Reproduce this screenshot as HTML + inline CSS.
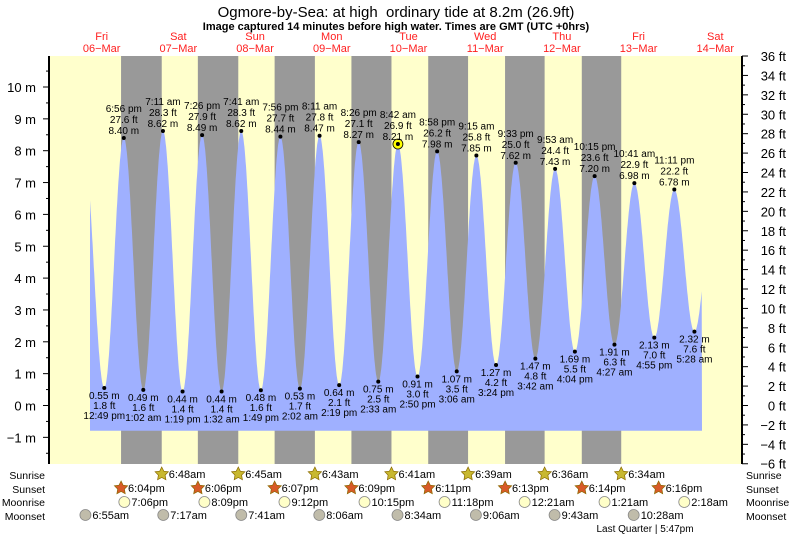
<!DOCTYPE html>
<html><head><meta charset="utf-8"><style>
body{margin:0;background:#fff;}
svg{display:block;font-family:"Liberation Sans",sans-serif;}
</style></head><body>
<svg id="s" width="793" height="538" xmlns="http://www.w3.org/2000/svg"></svg>
<script>
var S=document.getElementById('s'),h='';
var X0=63.3,PX=3.196,Y0=405.5,PM=31.85,PL=49,PR=742,PT=56,PB=464;
function X(t){return X0+t*PX;}function Y(m){return Y0-m*PM;}
h+='<rect x="'+PL+'" y="'+PT+'" width="'+(PR-PL)+'" height="'+(PB-PT)+'" fill="#ffffcc"/>';
var ss=[18.07,42.1,66.12,90.15,114.18,138.22,162.23],sr=[30.8,54.75,78.72,102.68,126.65,150.6,174.57];
for(var i=0;i<7;i++)h+='<rect x="'+X(ss[i])+'" y="'+PT+'" width="'+(X(sr[i])-X(ss[i]))+'" height="'+(PB-PT)+'" fill="#999999"/>';
var ex=[[6.2,8.3],[12.82,0.55,'12:49 pm'],[18.93,8.40,'6:56 pm'],[25.03,0.49,'1:02 am'],[31.18,8.62,'7:11 am'],[37.32,0.44,'1:19 pm'],[43.43,8.49,'7:26 pm'],[49.53,0.44,'1:32 am'],[55.68,8.62,'7:41 am'],[61.82,0.48,'1:49 pm'],[67.93,8.44,'7:56 pm'],[74.03,0.53,'2:02 am'],[80.18,8.47,'8:11 am'],[86.32,0.64,'2:19 pm'],[92.43,8.27,'8:26 pm'],[98.55,0.75,'2:33 am'],[104.7,8.21,'8:42 am'],[110.83,0.91,'2:50 pm'],[116.97,7.98,'8:58 pm'],[123.1,1.07,'3:06 am'],[129.25,7.85,'9:15 am'],[135.4,1.27,'3:24 pm'],[141.55,7.62,'9:33 pm'],[147.7,1.47,'3:42 am'],[153.88,7.43,'9:53 am'],[160.07,1.69,'4:04 pm'],[166.25,7.20,'10:15 pm'],[172.45,1.91,'4:27 am'],[178.68,6.98,'10:41 am'],[184.92,2.13,'4:55 pm'],[191.18,6.78,'11:11 pm'],[197.47,2.32,'5:28 am'],[203.7,6.6]];
var t0=(90-X0)/PX,t1=(702-X0)/PX,bot=430.7,p='M90,'+bot;
for(var t=t0;t<=t1;t+=0.1){for(var k=0;k<ex.length-1;k++)if(t>=ex[k][0]&&t<=ex[k+1][0])break;
var a=ex[k],b=ex[k+1],f=(t-a[0])/(b[0]-a[0]),m=a[1]+(b[1]-a[1])*(1-Math.cos(Math.PI*f))/2;p+=' L'+X(t).toFixed(1)+','+Y(m).toFixed(1);}
p+=' L702,'+bot+' Z';h+='<path d="'+p+'" fill="#9fb0ff"/>';
var T='font-size="10" fill="#000" text-anchor="middle"';
for(var k=1;k<ex.length-1;k++){var e=ex[k],x=X(e[0]),y=Y(e[1]),ft=(e[1]*3.28084).toFixed(1);
if(e[1]>4){if(k==16)h+='<circle cx="'+x+'" cy="'+y+'" r="5" fill="#ffff00" stroke="#000" stroke-width="0.8"/>';
h+='<circle cx="'+x+'" cy="'+y+'" r="2" fill="#000"/><text x="'+x+'" y="'+(y-26)+'" '+T+'>'+e[2]+'</text><text x="'+x+'" y="'+(y-15)+'" '+T+'>'+ft+' ft</text><text x="'+x+'" y="'+(y-4)+'" '+T+'>'+e[1].toFixed(2)+' m</text>';}
else h+='<circle cx="'+x+'" cy="'+y+'" r="2" fill="#000"/><text x="'+x+'" y="'+(y+11)+'" '+T+'>'+e[1].toFixed(2)+' m</text><text x="'+x+'" y="'+(y+21)+'" '+T+'>'+ft+' ft</text><text x="'+x+'" y="'+(y+31)+'" '+T+'>'+e[2]+'</text>';}
h+='<line x1="'+PL+'" y1="'+PT+'" x2="'+PL+'" y2="'+PB+'" stroke="#000" stroke-width="2"/><line x1="'+PR+'" y1="'+PT+'" x2="'+PR+'" y2="'+PB+'" stroke="#000" stroke-width="2"/>';
for(var m=-1.5;m<=11;m+=0.5){var y=Y(m);if(y<PT||y>PB)continue;var maj=(m%1==0);h+='<line x1="'+(PL-(maj?6:3))+'" y1="'+y+'" x2="'+PL+'" y2="'+y+'" stroke="#000"/>';
if(maj&&m<=10)h+='<text x="36" y="'+(y+5)+'" font-size="13" text-anchor="end">'+(m<0?'\u2212'+(-m):m)+' m</text>';}
for(var f=-6;f<=36;f++){var y=Y(f/3.28084);var maj=(f%2==0);h+='<line x1="'+PR+'" y1="'+y+'" x2="'+(PR+(maj?6:3))+'" y2="'+y+'" stroke="#000"/>';
if(maj)h+='<text x="786" y="'+(y+5)+'" font-size="13" text-anchor="end">'+(f<0?'\u2212'+(-f):f)+' ft</text>';}
var dn=['Fri','Sat','Sun','Mon','Tue','Wed','Thu','Fri','Sat'];
for(var d=0;d<9;d++){var x=X(12+24*d);h+='<text x="'+x+'" y="40" font-size="11" fill="#ff2020" text-anchor="middle">'+dn[d]+'</text><text x="'+x+'" y="52" font-size="11" fill="#ff2020" text-anchor="middle">'+('0'+(6+d)).slice(-2)+'\u2212Mar</text>';}
h+='<text x="396" y="17" font-size="15" text-anchor="middle">Ogmore-by-Sea: at high \u00a0ordinary tide at 8.2m (26.9ft)</text>';
h+='<text x="396" y="30" font-size="11" font-weight="bold" text-anchor="middle">Image captured 14 minutes before high water. Times are GMT (UTC +0hrs)</text>';
var rows=[['Sunrise',479],['Sunset',493],['Moonrise',506],['Moonset',520]];
rows.forEach(function(r){h+='<text x="45" y="'+r[1]+'" font-size="10.5" text-anchor="end">'+r[0]+'</text><text x="746" y="'+r[1]+'" font-size="10.5">'+r[0]+'</text>';});
function star(x,y,c){var s='';for(var i=0;i<10;i++){var a=-Math.PI/2+i*Math.PI/5,r=i%2?3.5:7;s+=(x+r*Math.cos(a)).toFixed(1)+','+(y+r*Math.sin(a)).toFixed(1)+' ';}return '<polygon points="'+s+'" fill="'+c+'" stroke="#8a6a00" stroke-width="0.7"/>';}
function ev(t,y,lab,kind){var x=X(t);var icon=kind<2?star(x,y,kind==0?'#c8b830':'#d85a28'):'<circle cx="'+x+'" cy="'+y+'" r="5.5" fill="'+(kind==2?'#ffffc8':'#c0bcaa')+'" stroke="#888" stroke-width="0.8"/>';h+=icon+'<text x="'+(x+7)+'" y="'+(y+4)+'" font-size="11">'+lab+'</text>';}
var srl=['6:48am','6:45am','6:43am','6:41am','6:39am','6:36am','6:34am'],ssl=['6:04pm','6:06pm','6:07pm','6:09pm','6:11pm','6:13pm','6:14pm','6:16pm'];
srl.forEach(function(l,i){ev(sr[i],474,l,0);});
var ss2=ss.concat([186.27]);ssl.forEach(function(l,i){ev(ss2[i],488,l,1);});
[[19.1,'7:06pm'],[44.15,'8:09pm'],[69.2,'9:12pm'],[94.25,'10:15pm'],[119.3,'11:18pm'],[144.35,'12:21am'],[169.35,'1:21am'],[194.3,'2:18am']].forEach(function(a){ev(a[0],502,a[1],2);});
[[6.92,'6:55am'],[31.28,'7:17am'],[55.68,'7:41am'],[80.1,'8:06am'],[104.57,'8:34am'],[129.1,'9:06am'],[153.72,'9:43am'],[178.47,'10:28am']].forEach(function(a){ev(a[0],515,a[1],3);});
h+='<text x="645" y="532" font-size="10" text-anchor="middle">Last Quarter | 5:47pm</text>';
S.innerHTML=h;
</script>
</body></html>
